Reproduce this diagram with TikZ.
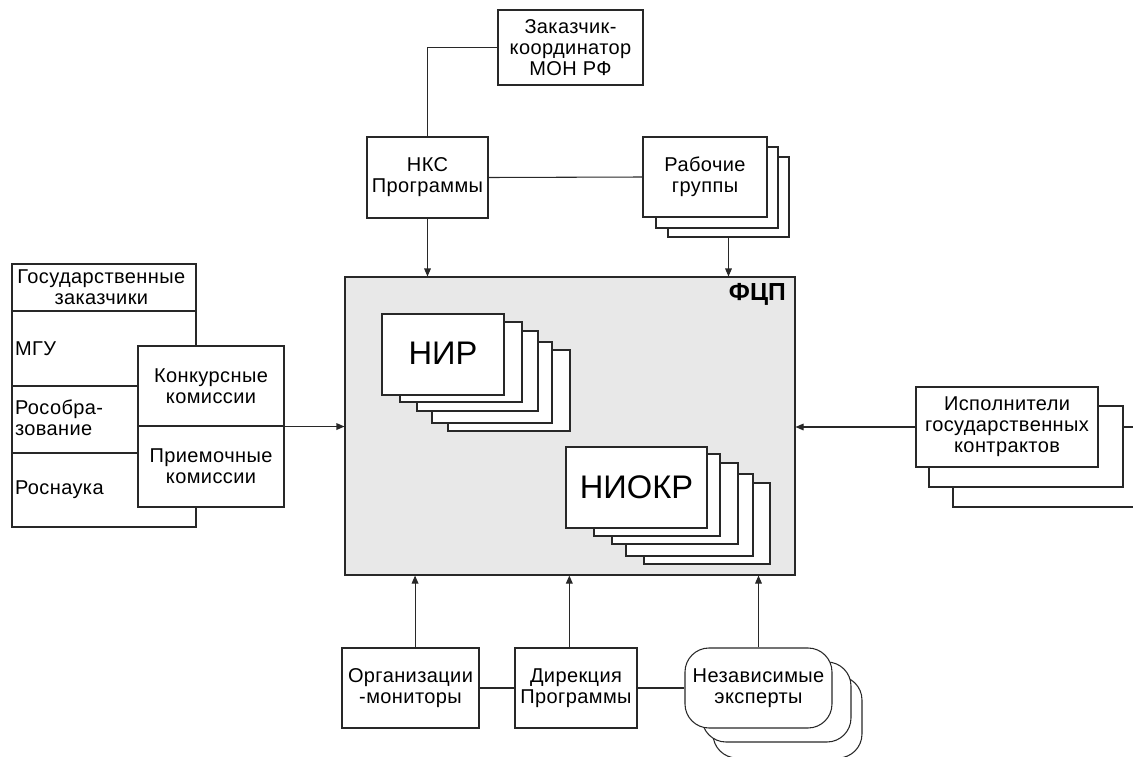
\documentclass[tikz,border=0pt]{standalone}
\usepackage{fontspec}
\setmainfont{Liberation Sans}
\usetikzlibrary{fit,arrows.meta}
\definecolor{fcpgray}{RGB}{232,232,232}
\definecolor{linecol}{RGB}{40,40,40}
\newcommand\txtfont{\fontsize{15}{15.8}\selectfont\addfontfeature{LetterSpace=2}}
\tikzset{
  line/.style={draw=linecol, line width=0.8pt},
  arr/.style={line, -{Triangle[length=6pt,width=5pt]}},
  box/.style={line, fill=white, rectangle, inner sep=0pt},
  rbox/.style={box, rounded corners=18pt},
  txt/.style={inner sep=0pt, align=center, font=\txtfont},
  lbl/.style={inner sep=0pt, align=left, font=\txtfont},
  big/.style={inner sep=0pt, font=\fontsize{24.5}{26}\selectfont}
}
\begin{document}
\begin{tikzpicture}[x=0.75pt,y=-0.75pt]
\useasboundingbox (0,0) rectangle (1133,757);
\clip (0,0) rectangle (1133,757);

% top
\node[box, fit={(498,10) (643,85)}] (zak) {};
\node[txt] (zakt) at (zak.center) {Заказчик-\\координатор\\МОН РФ};
\node[box, fit={(367,137) (488,218)}] (nks) {};
\node[txt] (nkst) at (nks.center) {НКС\\Программы};
\node[box, fit={(668,157) (789,237)}] (rab3) {};
\node[box, fit={(656,147) (778,228)}] (rab2) {};
\node[box, fit={(643,137) (767,217)}] (rab1) {};
\node[txt] (rabt) at (rab1.center) {Рабочие\\группы};

% central
\node[line, fill=fcpgray, rectangle, inner sep=0pt, fit={(345,277) (795,575)}] (fcp) {};
\node[anchor=north east, inner sep=0pt, font=\bfseries\fontsize{18.5}{20}\selectfont] (fcplbl) at (786,283) {ФЦП};

\node[box, fit={(448,350) (570,431)}] (nir5) {};
\node[box, fit={(432,342) (552,423)}] (nir4) {};
\node[box, fit={(417,331) (538,411)}] (nir3) {};
\node[box, fit={(400,322) (522,402)}] (nir2) {};
\node[box, fit={(382,314) (504,395)}] (nir1) {};
\node[big] (nirt) at ([yshift=1pt]nir1.center) {НИР};

\node[box, fit={(644,483) (770,564)}] (niokr5) {};
\node[box, fit={(626,474) (753,556)}] (niokr4) {};
\node[box, fit={(612,463) (738,544)}] (niokr3) {};
\node[box, fit={(594,454) (720,536)}] (niokr2) {};
\node[box, fit={(566,447) (707,528)}] (niokr1) {};
\node[big] (niokrt) at (niokr1.center) {НИОКР};

% left
\node[box, fit={(12,264) (196,311)}] (gz) {};
\node[txt] (gzt) at ([xshift=-2pt]gz.center) {Государственные\\заказчики};
\node[box, fit={(12,311) (196,386)}] (mgu) {};
\node[box, fit={(12,386) (196,453)}] (rosobr) {};
\node[box, fit={(12,453) (196,527)}] (rosnauka) {};
\node[lbl, anchor=west] (mgut) at ([xshift=2.5pt]mgu.west) {МГУ};
\node[lbl, anchor=west] (rosobrt) at ([xshift=2.5pt,yshift=1.5pt]rosobr.west) {Рособра-\\зование};
\node[lbl, anchor=west] (rosnaukat) at ([xshift=2.5pt]rosnauka.west) {Роснаука};
\node[box, fit={(138,346) (284,426)}] (konk) {};
\node[txt] (konkt) at (konk.center) {Конкурсные\\комиссии};
\node[box, fit={(138,426) (284,507)}] (priem) {};
\node[txt] (priemt) at (priem.center) {Приемочные\\комиссии};

% right
\node[box, fit={(953,427) (1160,507)}] (isp3) {};
\node[box, fit={(929,406) (1123,487)}] (isp2) {};
\node[box, fit={(916,387) (1098,467)}] (isp1) {};
\node[txt] (ispt) at (isp1.center) {Исполнители\\государственных\\контрактов};

% bottom
\node[box, fit={(342,648) (479,728)}] (org) {};
\node[txt] (orgt) at (org.center) {Организации\\-мониторы};
\node[box, fit={(515,648) (637,728)}] (dir) {};
\node[txt] (dirt) at (dir.center) {Дирекция\\Программы};
\node[rbox, fit={(713,676) (862,758)}] (exp3) {};
\node[rbox, fit={(702,662) (851,742)}] (exp2) {};
\node[rbox, fit={(685,648) (832,728)}] (exp1) {};
\node[txt] (expt) at (exp1.center) {Независимые\\эксперты};

% connectors
\draw[line] (zak.west) -| (nks.north);
\draw[line] (nks.east) -- (rab1.west);
\draw[arr] (nks.south) -- (nks.south |- fcp.north);
\draw[arr] (rab3.south) -- (rab3.south |- fcp.north);
\draw[arr] (konk.south east) -- (konk.south east -| fcp.west);
\draw[arr] (isp1.west) -- (isp1.west -| fcp.east);
\draw[arr] ([xshift=3.4pt]org.north) -- ([xshift=3.4pt]org.north |- fcp.south);
\draw[arr] ([xshift=-5pt]dir.north) -- ([xshift=-5pt]dir.north |- fcp.south);
\draw[arr] (exp1.north) -- (exp1.north |- fcp.south);
\draw[line] (org.east) -- (dir.west);
\draw[line] (dir.east) -- (exp1.west);
\end{tikzpicture}
\end{document}
